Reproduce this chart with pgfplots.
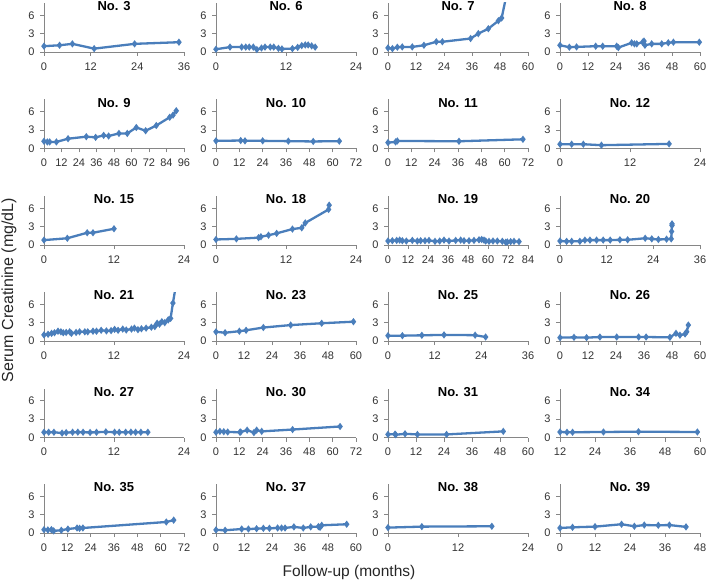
\documentclass[border=0pt]{standalone}
\usepackage{fontspec}
\setmainfont{Liberation Sans}
\usepackage{pgfplots}
\pgfplotsset{compat=1.18}
\definecolor{ln}{RGB}{74,126,187}
\definecolor{axc}{RGB}{134,134,134}
\pgfplotsset{
  panel/.style={
    width=140pt,height=49pt,scale only axis,anchor=south west,
    axis lines=left, axis line style={axc,-,line width=0.8pt},
    ymin=0,ymax=8,ytick={0,3,6},xtick distance=12,
    enlargelimits=false,
    tick align=outside, major tick length=4pt,
    tick style={axc,line width=0.8pt},
    /pgf/number format/assume math mode=true,
    tick label style={font=\fontsize{11}{12}\selectfont,text=black!80},
    xticklabel style={yshift=-3pt},
    yticklabel style={xshift=-2pt},
  },
  ttl/.style={extra description/.code={\node[font=\bfseries\fontsize{13}{14}\selectfont,anchor=center,inner sep=0pt] at (0.5,0.935) {#1};}},
  pl/.style={ln,line width=2.3pt,mark=diamond*,mark size=1.8pt,mark options={ln,solid}},
  nm/.style={ln,line width=2.3pt,no marks},
}
\begin{document}
\begin{tikzpicture}
\path[use as bounding box] (0,0) rectangle (708pt,-585pt);
% Row 1
\begin{axis}[panel,at={(44pt,-52pt)},xmin=0,xmax=36,ttl={No. 3}]
\addplot[pl] coordinates {(0,0.95)(4,1.1)(7.3,1.33)(12.9,0.55)(23.3,1.33)(34.7,1.6)};
\end{axis}
\begin{axis}[panel,at={(216pt,-52pt)},xmin=0,xmax=24,ttl={No. 6}]
\addplot[pl] coordinates {(0,0.45)(2.4,0.8)(4.4,0.8)(5.1,0.8)(5.7,0.8)(6.4,0.8)(7.0,0.4)(7.8,0.65)(8.4,0.8)(9.3,0.8)(9.9,0.8)(10.7,0.6)(11.3,0.5)(13.1,0.55)(14.0,0.75)(14.7,1.05)(15.3,1.15)(15.8,1.15)(16.4,1.0)(17.0,0.8)};
\end{axis}
\begin{axis}[panel,at={(388pt,-52pt)},xmin=0,xmax=60,ttl={No. 7}]
\addplot[pl] coordinates {(0,0.67)(1.9,0.55)(4,0.78)(6.1,0.83)(10.4,0.83)(15.4,1.1)(20.7,1.67)(23.3,1.67)(35.4,2.2)(38.7,3.0)(43,3.8)(47.3,5.1)(48.7,5.55)};
\addplot[nm] coordinates {(48.7,5.55)(50.9,9.5)};
\end{axis}
\begin{axis}[panel,at={(560pt,-52pt)},xmin=0,xmax=60,ttl={No. 8}]
\addplot[pl] coordinates {(0,1.1)(4,0.78)(7.1,0.83)(15.3,0.95)(18.3,0.95)(24.3,0.95)(25,0.72)(30.7,1.5)(31.9,1.33)(32.9,1.33)(35.4,1.6)(36,1.78)(36.4,1.1)(39.3,1.33)(43.6,1.33)(46.4,1.5)(48.6,1.6)(59.7,1.6)};
\end{axis}
% Row 2
\begin{axis}[panel,at={(44pt,-148.5pt)},xmin=0,xmax=96,ttl={No. 9}]
\addplot[pl] coordinates {(0,1.18)(2.3,1.07)(3.9,1.07)(8.5,1.07)(16.5,1.6)(29,1.93)(35.4,1.82)(40.9,2.14)(44.3,2.04)(51.4,2.46)(57.1,2.46)(63.3,3.43)(69.7,2.9)(77,3.75)(86.2,5.1)(88.5,5.46)(90.7,6.16)};
\end{axis}
\begin{axis}[panel,at={(216pt,-148.5pt)},xmin=0,xmax=72,ttl={No. 10}]
\addplot[pl] coordinates {(0,1.25)(12.7,1.3)(14.9,1.25)(24,1.25)(37.2,1.2)(50,1.15)(63.4,1.2)};
\end{axis}
\begin{axis}[panel,at={(388pt,-148.5pt)},xmin=0,xmax=72,ttl={No. 11}]
\addplot[pl] coordinates {(0,0.96)(3.9,1.07)(4.8,1.23)(36.5,1.18)(69.4,1.5)};
\end{axis}
\begin{axis}[panel,at={(560pt,-148.5pt)},xmin=0,xmax=24,ttl={No. 12}]
\addplot[pl] coordinates {(0,0.7)(2,0.7)(4,0.7)(7.1,0.54)(18.7,0.75)};
\end{axis}
% Row 3
\begin{axis}[panel,at={(44pt,-245pt)},xmin=0,xmax=24,ttl={No. 15}]
\addplot[pl] coordinates {(0,0.8)(4,1.1)(7.4,2.0)(8.4,2.0)(12,2.65)};
\end{axis}
\begin{axis}[panel,at={(216pt,-245pt)},xmin=0,xmax=24,ttl={No. 18}]
\addplot[pl] coordinates {(0,0.9)(3.5,1.0)(7.3,1.2)(7.7,1.35)(9,1.6)(10.4,1.9)(13.1,2.6)(14.7,2.8)(15.3,3.6)(19.3,5.8)(19.4,6.5)};
\end{axis}
\begin{axis}[panel,at={(388pt,-245pt)},xmin=0,xmax=84,ttl={No. 19}]
\addplot[pl] coordinates {(0,0.65)(2.6,0.7)(5.2,0.75)(7,0.8)(8.6,0.7)(11,0.65)(14.6,0.75)(17.6,0.65)(19.6,0.7)(22.2,0.7)(24.6,0.75)(28.2,0.6)(31,0.65)(33.6,0.8)(36.6,0.65)(40.6,0.75)(43.6,0.8)(45.6,0.7)(48.6,0.7)(51.6,0.75)(54.6,0.85)(56.2,0.9)(57.6,0.8)(58.6,0.65)(60.6,0.6)(63,0.65)(65.6,0.65)(68.6,0.6)(70.6,0.45)(71.6,0.5)(73.6,0.55)(75.6,0.6)(78.6,0.55)};
\end{axis}
\begin{axis}[panel,at={(560pt,-245pt)},xmin=0,xmax=36,ttl={No. 20}]
\addplot[pl] coordinates {(0,0.65)(1.7,0.6)(3,0.6)(5.1,0.6)(6.4,0.8)(7.7,0.8)(9.4,0.8)(11.1,0.8)(12.9,0.8)(15.4,0.85)(17.4,0.85)(21.9,1.1)(23.6,1.0)(25.3,0.9)(27.4,0.95)(28.6,1.0)(28.7,2.2)(28.8,3.2)(28.8,3.45)};
\end{axis}
% Row 4
\begin{axis}[panel,at={(44pt,-341pt)},xmin=0,xmax=24,ttl={No. 21}]
\addplot[pl] coordinates {(0,1.0)(0.7,1.1)(1.3,1.25)(1.8,1.35)(2.4,1.6)(2.9,1.5)(3.3,1.35)(3.8,1.4)(4.4,1.5)(4.7,1.25)(5.5,1.4)(6.1,1.5)(7.0,1.5)(7.5,1.5)(8.4,1.6)(9.0,1.6)(9.8,1.75)(10.7,1.65)(11.5,1.7)(12.1,1.9)(12.7,1.75)(13.5,1.95)(14.1,1.8)(15,1.95)(15.5,2.1)(16.1,1.85)(16.7,2.0)(17.5,2.1)(18.4,2.25)(19,2.35)(19.4,2.9)(19.8,2.75)(20.2,3.15)(20.7,3.0)(21.3,3.45)(21.7,3.7)(22.1,6.2)};
\addplot[nm] coordinates {(22.1,6.2)(22.6,9.0)};
\end{axis}
\begin{axis}[panel,at={(216pt,-341pt)},xmin=0,xmax=60,ttl={No. 23}]
\addplot[pl] coordinates {(0,1.5)(3.9,1.35)(10,1.6)(12.9,1.75)(20.3,2.2)(32,2.6)(45.3,2.9)(58.9,3.15)};
\end{axis}
\begin{axis}[panel,at={(388pt,-341pt)},xmin=0,xmax=36,ttl={No. 25}]
\addplot[pl] coordinates {(0,0.87)(3.7,0.87)(8.7,0.93)(14.4,1.0)(22.4,0.95)(25.1,0.65)};
\end{axis}
\begin{axis}[panel,at={(560pt,-341pt)},xmin=0,xmax=60,ttl={No. 26}]
\addplot[pl] coordinates {(0,0.55)(6,0.6)(11.4,0.55)(17.1,0.65)(24.3,0.65)(33.7,0.65)(36.9,0.65)(47.1,0.6)(49.7,1.25)(51.4,0.95)(53.6,1.15)(54.3,1.5)(55,2.6)};
\end{axis}
% Row 5
\begin{axis}[panel,at={(44pt,-437.5pt)},xmin=0,xmax=24,ttl={No. 27}]
\addplot[pl] coordinates {(0,0.86)(0.8,0.86)(1.7,0.86)(3.1,0.72)(3.8,0.8)(4.9,0.86)(5.8,0.88)(6.7,0.86)(7.9,0.82)(9.0,0.86)(10.6,0.92)(12.1,0.86)(12.9,0.86)(14.0,0.86)(14.9,0.88)(15.7,0.86)(16.6,0.86)(17.8,0.86)};
\end{axis}
\begin{axis}[panel,at={(216pt,-437.5pt)},xmin=0,xmax=72,ttl={No. 30}]
\addplot[pl] coordinates {(0,0.86)(2,1.0)(4,0.95)(6,0.9)(12.3,0.86)(12.7,0.9)(16,1.2)(19.5,0.8)(20.9,1.2)(23.5,1.0)(39.4,1.3)(63.8,1.8)};
\end{axis}
\begin{axis}[panel,at={(388pt,-437.5pt)},xmin=0,xmax=60,ttl={No. 31}]
\addplot[pl] coordinates {(0,0.5)(3,0.55)(3.3,0.45)(7.3,0.6)(12.6,0.5)(25.1,0.5)(49.4,1.0)};
\end{axis}
\begin{axis}[panel,at={(560pt,-437.5pt)},xmin=12,xmax=60,ttl={No. 34}]
\addplot[pl] coordinates {(12,0.9)(14.4,0.86)(16.3,0.86)(26.9,0.9)(38.9,0.95)(59.1,0.9)};
\end{axis}
% Row 6
\begin{axis}[panel,at={(44pt,-533pt)},xmin=0,xmax=72,ttl={No. 35}]
\addplot[pl] coordinates {(0,0.55)(2,0.5)(3.8,0.55)(5,0.35)(8.9,0.45)(12.3,0.65)(17,0.82)(18.3,0.77)(20,0.82)(62.9,1.8)(66.7,2.1)};
\end{axis}
\begin{axis}[panel,at={(216pt,-533pt)},xmin=0,xmax=60,ttl={No. 37}]
\addplot[pl] coordinates {(0,0.5)(3.9,0.45)(11,0.65)(13.9,0.65)(17.4,0.7)(20.3,0.77)(22.9,0.77)(26.4,0.82)(28.1,0.82)(29.6,0.82)(33.4,1.0)(37.4,0.82)(40.6,1.0)(43.9,1.05)(44.6,0.93)(45.3,1.26)(56,1.43)};
\end{axis}
\begin{axis}[panel,at={(388pt,-533pt)},xmin=0,xmax=24,ttl={No. 38}]
\addplot[pl] coordinates {(0,0.88)(5.8,1.04)(17.8,1.1)};
\end{axis}
\begin{axis}[panel,at={(560pt,-533pt)},xmin=0,xmax=48,ttl={No. 39}]
\addplot[pl] coordinates {(0,0.82)(4.3,0.93)(12,1.04)(21.1,1.43)(25.5,1.1)(28.9,1.3)(33.7,1.26)(37.5,1.3)(43.2,1.0)};
\end{axis}
\node[rotate=90,font=\fontsize{16}{18}\selectfont,text=black!85] at (9pt,-290pt) {Serum Creatinine (mg/dL)};
\node[font=\fontsize{15.5}{17}\selectfont,text=black!85] at (349pt,-572pt) {Follow-up (months)};
\end{tikzpicture}
\end{document}
